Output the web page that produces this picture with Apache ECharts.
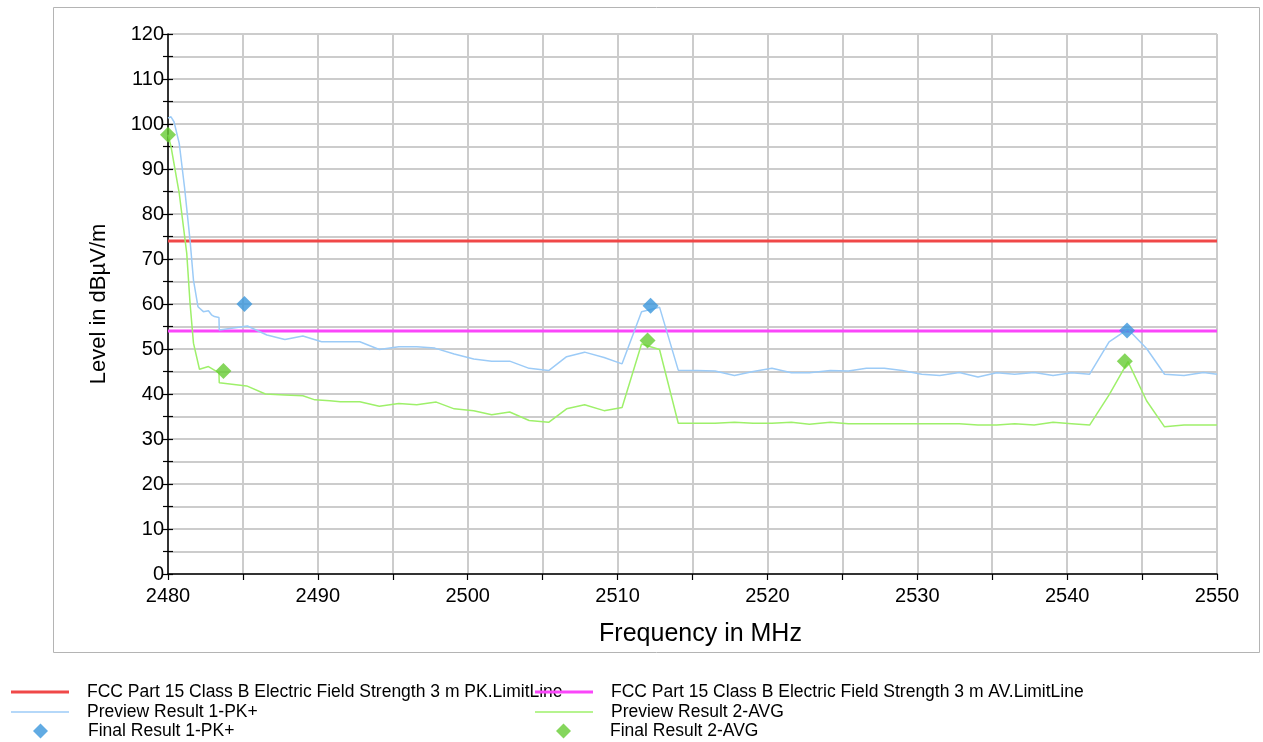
<!DOCTYPE html>
<html>
<head>
<meta charset="utf-8">
<script src="https://cdn.jsdelivr.net/npm/echarts@6/dist/echarts.min.js"></script>
<style>
html,body{margin:0;padding:0;background:#fff;}
#c{width:1263px;height:742px;}
</style>
</head>
<body>
<div id="c"></div>
<script>
// ---- data ----
var seriesNames = [
  'FCC Part 15 Class B Electric Field Strength 3 m PK.LimitLine',
  'FCC Part 15 Class B Electric Field Strength 3 m AV.LimitLine',
  'Preview Result 1-PK+',
  'Preview Result 2-AVG',
  'Final Result 1-PK+',
  'Final Result 2-AVG'
];
var limitFreq = [2480, 2550];
var limitPK = [74, 74];
var limitAV = [54, 54];

var pkFreq = [2480.0, 2480.2, 2480.4, 2480.75, 2481.1, 2481.47, 2481.7, 2482.0, 2482.36, 2482.7, 2482.9, 2483.1, 2483.4, 2483.42,
  2485.3, 2486.6, 2487.8, 2489.0, 2490.25, 2491.5, 2492.8, 2494.1, 2495.4, 2496.6, 2497.8, 2499.1, 2500.4, 2501.6, 2502.8,
  2504.1, 2505.4, 2506.6, 2507.8, 2509.1, 2510.3, 2511.6, 2512.8, 2514.05, 2515.3, 2516.5, 2517.8, 2519.05, 2520.3, 2521.6,
  2522.8, 2524.2, 2525.4, 2526.6, 2527.8, 2529.0, 2530.3, 2531.5, 2532.8, 2534.05, 2535.3, 2536.5, 2537.8, 2539.06, 2540.3,
  2541.5, 2542.8, 2544.06, 2545.3, 2546.5, 2547.8, 2549.1, 2550.0];
var pkLevel = [101.3, 101.6, 100.5, 95.7, 86.0, 74.2, 65.3, 59.4, 58.3, 58.5, 57.6, 57.2, 57.0, 54.2,
  55.1, 53.1, 52.1, 52.9, 51.6, 51.6, 51.6, 49.9, 50.5, 50.5, 50.2, 48.9, 47.8, 47.3, 47.3,
  45.7, 45.2, 48.3, 49.3, 48.1, 46.7, 58.3, 59.3, 45.3, 45.2, 45.1, 44.1, 45.0, 45.7, 44.7,
  44.7, 45.2, 45.1, 45.7, 45.7, 45.2, 44.4, 44.1, 44.8, 43.8, 44.7, 44.4, 44.8, 44.1, 44.7,
  44.4, 51.6, 54.4, 50.1, 44.4, 44.1, 44.8, 44.4];

var avFreq = [2480.0, 2480.2, 2480.75, 2481.25, 2481.47, 2481.7, 2482.1, 2482.7, 2483.4, 2483.42,
  2485.25, 2486.5, 2487.8, 2489.0, 2489.8, 2490.8, 2491.5, 2492.8, 2494.1, 2495.4, 2496.6, 2497.9, 2499.1, 2500.4,
  2501.6, 2502.8, 2504.1, 2505.4, 2506.6, 2507.8, 2509.1, 2510.3, 2511.6, 2512.8, 2514.05, 2515.3, 2516.5, 2517.8,
  2519.05, 2520.3, 2521.6, 2522.8, 2524.2, 2525.4, 2526.6, 2527.8, 2529.0, 2530.3, 2531.5, 2532.8, 2534.05, 2535.3,
  2536.5, 2537.8, 2539.06, 2540.3, 2541.5, 2542.8, 2544.06, 2545.3, 2546.5, 2547.8, 2549.1, 2550.0];
var avLevel = [97.6, 95.0, 84.6, 71.3, 60.2, 51.3, 45.5, 46.1, 44.7, 42.5,
  41.8, 40.0, 39.8, 39.6, 38.7, 38.5, 38.3, 38.3, 37.3, 37.9, 37.6, 38.2, 36.7, 36.3,
  35.4, 36.0, 34.1, 33.7, 36.7, 37.6, 36.3, 37.0, 51.1, 49.9, 33.5, 33.5, 33.5, 33.7,
  33.5, 33.5, 33.7, 33.3, 33.7, 33.4, 33.4, 33.4, 33.4, 33.4, 33.4, 33.4, 33.1, 33.1,
  33.4, 33.1, 33.7, 33.4, 33.1, 39.8, 47.2, 38.5, 32.7, 33.1, 33.1, 33.1];

var finalPKFreq = [2485.1, 2512.2, 2544.0];
var finalPKLevel = [60.0, 59.6, 54.1];
var finalAVFreq = [2480.0, 2483.7, 2512.0, 2543.85];
var finalAVLevel = [97.6, 45.1, 51.9, 47.3];

var xMin = 2480, xMax = 2550, xStep = 5;
var yMin = 0, yMax = 120, yStep = 5;

function zip(a, b) { return a.map(function (v, i) { return [v, b[i]]; }); }

var FONT = '"Liberation Sans", Arial, sans-serif';
var colors = ['#f04848', '#fa46fa', '#9ccbf7', '#9ef06a', '#3a96dc', '#66cc33'];

function legendItem(name, left, top, icon, iw, ih, padLeft) {
  return {
    show: true, left: left, top: top, padding: 0,
    itemWidth: iw, itemHeight: ih, selectedMode: false,
    data: [{ name: name, icon: icon }],
    textStyle: { fontFamily: FONT, fontSize: 17.5, color: '#000', lineHeight: 18, padding: [0, 0, 0, padLeft] }
  };
}

var chart = echarts.init(document.getElementById('c'), null, { renderer: 'canvas' });
chart.setOption({
  animation: false,
  backgroundColor: '#fff',
  graphic: [{
    type: 'rect', silent: true, z: -10,
    shape: { x: 53.5, y: 7.5, width: 1206, height: 645 },
    style: { fill: 'none', stroke: '#b4b4b4', lineWidth: 1 }
  }],
  grid: { left: 168, right: 46, top: 34, bottom: 168, containLabel: false },
  legend: [
    legendItem(seriesNames[0], 11, 683, 'rect', 58, 3, 13),
    legendItem(seriesNames[1], 535, 683, 'rect', 58, 3, 13),
    legendItem(seriesNames[2], 11, 703, 'rect', 58, 1.5, 13),
    legendItem(seriesNames[3], 535, 703, 'rect', 58, 1.5, 13),
    legendItem(seriesNames[4], 33, 722, 'diamond', 15, 15, 35),
    legendItem(seriesNames[5], 556, 722, 'diamond', 15, 15, 34)
  ],
  xAxis: {
    type: 'value', min: xMin, max: xMax, interval: xStep,
    name: 'Frequency in MHz', nameLocation: 'middle', nameGap: 48,
    nameTextStyle: { fontFamily: FONT, fontSize: 25, color: '#000', padding: [0, 0, 0, 16] },
    axisLine: { show: true, onZero: false, lineStyle: { color: '#000', width: 1.5 } },
    axisTick: { show: true, length: 6, lineStyle: { color: '#000', width: 1.2 } },
    axisLabel: {
      margin: 12, fontFamily: FONT, fontSize: 20, color: '#000',
      formatter: function (v) { return v % 10 === 0 ? String(v) : ''; }
    },
    splitLine: { show: true, lineStyle: { color: '#cccccc', width: 2 } }
  },
  yAxis: [{
    type: 'value', min: yMin, max: yMax, interval: yStep,
    name: 'Level in dBµV/m', nameLocation: 'middle', nameGap: 58,
    nameTextStyle: { fontFamily: FONT, fontSize: 22, color: '#000' },
    axisLine: { show: true, onZero: false, lineStyle: { color: '#000', width: 1.5 } },
    axisTick: { show: true, length: 5, lineStyle: { color: '#000', width: 1.2 } },
    axisLabel: {
      margin: 4, fontFamily: FONT, fontSize: 20, color: '#000',
      formatter: function (v) { return v % 10 === 0 ? String(v) : ''; }
    },
    splitLine: { show: true, lineStyle: { color: '#cccccc', width: 2 } }
  }, {
    type: 'value', min: yMin, max: yMax, interval: yStep, position: 'left',
    axisLine: { show: false },
    axisTick: { show: true, inside: true, length: 5, lineStyle: { color: '#000', width: 1.2 } },
    axisLabel: { show: false },
    splitLine: { show: false }
  }],
  series: [{
    name: seriesNames[0], type: 'line', data: zip(limitFreq, limitPK), symbol: 'none',
    color: colors[0], lineStyle: { color: colors[0], width: 3 }, z: 3, silent: true
  }, {
    name: seriesNames[1], type: 'line', data: zip(limitFreq, limitAV), symbol: 'none',
    color: colors[1], lineStyle: { color: colors[1], width: 3 }, z: 3, silent: true
  }, {
    name: seriesNames[2], type: 'line', data: zip(pkFreq, pkLevel), symbol: 'none',
    color: colors[2], lineStyle: { color: colors[2], width: 1.5 }, z: 4, silent: true
  }, {
    name: seriesNames[3], type: 'line', data: zip(avFreq, avLevel), symbol: 'none',
    color: colors[3], lineStyle: { color: colors[3], width: 1.5 }, z: 4, silent: true
  }, {
    name: seriesNames[4], type: 'scatter', data: zip(finalPKFreq, finalPKLevel), symbol: 'diamond',
    symbolSize: 16, color: colors[4], itemStyle: { color: colors[4] }, z: 6, clip: false, silent: true
  }, {
    name: seriesNames[5], type: 'scatter', data: zip(finalAVFreq, finalAVLevel), symbol: 'diamond',
    symbolSize: 16, color: colors[5], itemStyle: { color: colors[5] }, z: 6, clip: false, silent: true
  }]
});
</script>
</body>
</html>
